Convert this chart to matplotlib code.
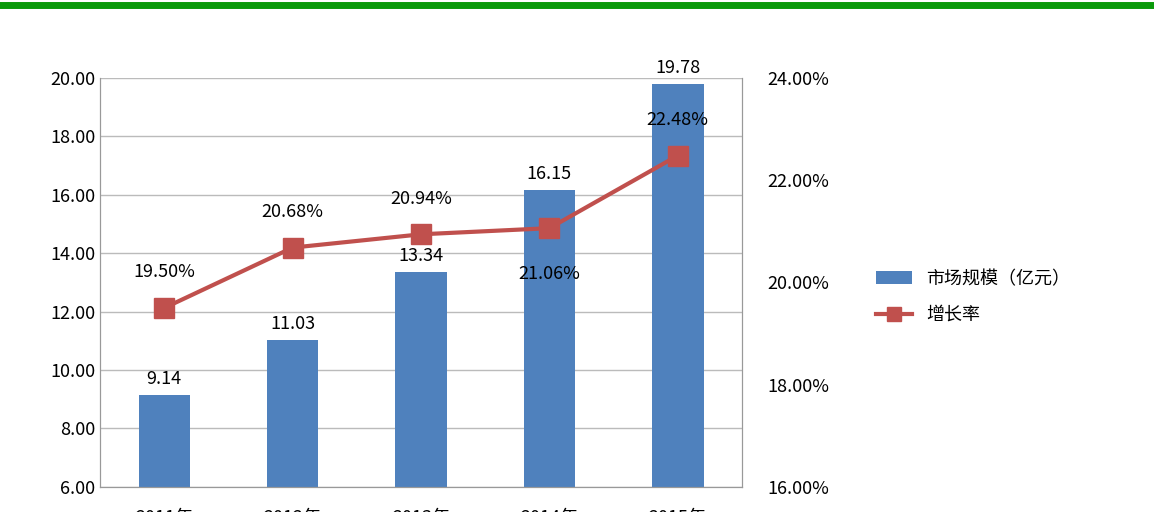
import matplotlib.pyplot as plt
from matplotlib.ticker import FuncFormatter

plt.rcParams['font.family'] = ['Noto Sans CJK SC', 'DejaVu Sans']

years = ['2011年', '2012年', '2013年', '2014年', '2015年']
market = [9.14, 11.03, 13.34, 16.15, 19.78]
growth = [19.50, 20.68, 20.94, 21.06, 22.48]

fig = plt.figure(figsize=(11.54, 5.12), dpi=100)
fig.add_artist(plt.Line2D([0, 1], [0.99, 0.99], color='#0a9a0a', lw=5))
ax = fig.add_axes([0.0867, 0.049, 0.5563, 0.799])
x = range(len(years))
heights = [v - 6 for v in market]
ax.bar(x, heights, width=0.4, color='#4f81bd', bottom=6, label='市场规模（亿元）', zorder=2)
ax.set_ylim(6, 20)
ax.set_yticks(range(6, 21, 2))
ax.yaxis.set_major_formatter(FuncFormatter(lambda v, p: f'{v:.2f}'))
ax.grid(axis='y', color='#bbbbbb', lw=1, zorder=0)
ax.set_xlim(-0.5, 4.5)
ax.set_xticks(list(x))
ax.set_xticklabels(years)
ax.tick_params(axis='x', length=0, pad=16, labelsize=13)
ax.tick_params(axis='y', length=0, labelsize=13)
for i, v in enumerate(market):
    ax.text(i, v + 0.25, f'{v:.2f}', ha='center', va='bottom', fontsize=13)

ax2 = ax.twinx()
ax2.plot(list(x), growth, color='#c0504d', lw=3, marker='s', markersize=14, label='增长率', zorder=3)
ax2.set_ylim(16, 24)
ax2.set_yticks(range(16, 25, 2))
ax2.yaxis.set_major_formatter(FuncFormatter(lambda v, p: f'{v:.2f}%'))
ax2.tick_params(axis='y', length=0, labelsize=13, pad=18)
for a in (ax, ax2):
    a.spines['top'].set_visible(False)
    for s in ['left', 'right', 'bottom']:
        a.spines[s].set_color('#999999')
offs = [0.7, 0.7, 0.7, -0.9, 0.7]
for i, v in enumerate(growth):
    ax2.text(i, v + offs[i], f'{v:.2f}%', ha='center', va='center', fontsize=13)

h1, l1 = ax.get_legend_handles_labels()
h2, l2 = ax2.get_legend_handles_labels()
fig.legend(h1 + h2, l1 + l2, loc='center left', bbox_to_anchor=(0.745, 0.42),
           frameon=False, fontsize=13, labelspacing=1.0, markerscale=0.7)
fig.savefig('out.png', dpi=100)
